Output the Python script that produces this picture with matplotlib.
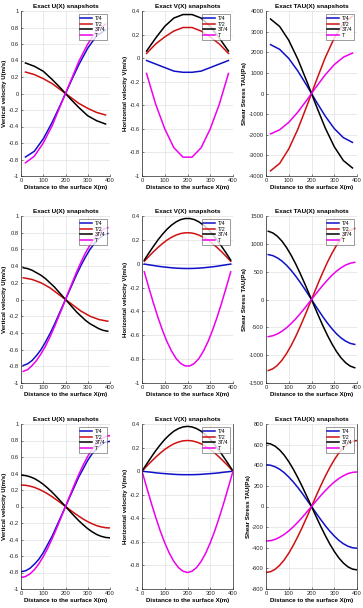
import numpy as np
import matplotlib.pyplot as plt
import matplotlib as mpl
mpl.rc('font', family=['Liberation Sans', 'DejaVu Sans'])

labels = ["T/4", "T/2", "3T/4", "T"]
colors = ["#1010c8", "#d01010", "#000000", "#ee00ee"]

# ---- row 1 (coarse grid)
x1 = [20, 60, 100, 140, 180, 220, 260, 300, 340, 380]
u1_q1 = [-0.77, -0.70, -0.55, -0.35, -0.12, 0.12, 0.35, 0.55, 0.70, 0.77]
u1_q2 = [0.26, 0.23, 0.18, 0.12, 0.04, -0.04, -0.12, -0.18, -0.23, -0.26]
u1_q3 = [0.37, 0.33, 0.27, 0.17, 0.06, -0.06, -0.17, -0.27, -0.33, -0.37]
u1_q4 = [-0.84, -0.76, -0.60, -0.39, -0.13, 0.13, 0.39, 0.60, 0.76, 0.84]
v1_q1 = [-0.02, -0.05, -0.08, -0.11, -0.12, -0.12, -0.11, -0.08, -0.05, -0.02]
v1_q2 = [0.04, 0.12, 0.18, 0.23, 0.26, 0.26, 0.23, 0.18, 0.12, 0.04]
v1_q3 = [0.06, 0.17, 0.27, 0.34, 0.37, 0.37, 0.34, 0.27, 0.17, 0.06]
v1_q4 = [-0.13, -0.39, -0.60, -0.76, -0.84, -0.84, -0.76, -0.60, -0.39, -0.13]
t1_q1 = [2370, 2140, 1700, 1090, 375, -375, -1090, -1700, -2140, -2370]
t1_q2 = [-3750, -3390, -2690, -1730, -590, 590, 1730, 2690, 3390, 3750]
t1_q3 = [3610, 3250, 2580, 1660, 570, -570, -1660, -2580, -3250, -3610]
t1_q4 = [-1960, -1760, -1400, -900, -310, 310, 900, 1400, 1760, 1960]

# ---- row 2
x2 = [10, 30, 50, 70, 90, 110, 130, 150, 170, 190,
      210, 230, 250, 270, 290, 310, 330, 350, 370, 390]
u2_q1 = [-0.79, -0.77, -0.73, -0.67, -0.60, -0.51, -0.41, -0.30, -0.18, -0.06,
         0.06, 0.18, 0.30, 0.41, 0.51, 0.60, 0.67, 0.73, 0.77, 0.79]
u2_q2 = [0.26, 0.25, 0.24, 0.22, 0.20, 0.17, 0.14, 0.10, 0.06, 0.02,
         -0.02, -0.06, -0.10, -0.14, -0.17, -0.20, -0.22, -0.24, -0.25, -0.26]
u2_q3 = [0.38, 0.37, 0.35, 0.32, 0.29, 0.25, 0.20, 0.15, 0.09, 0.03,
         -0.03, -0.09, -0.15, -0.20, -0.25, -0.29, -0.32, -0.35, -0.37, -0.38]
u2_q4 = [-0.86, -0.84, -0.79, -0.73, -0.65, -0.56, -0.45, -0.33, -0.20, -0.07,
         0.07, 0.20, 0.33, 0.45, 0.56, 0.65, 0.73, 0.79, 0.84, 0.86]
v2_q1 = [-0.003, -0.009, -0.015, -0.021, -0.026, -0.030, -0.034, -0.037, -0.039, -0.040,
         -0.040, -0.039, -0.037, -0.034, -0.030, -0.026, -0.021, -0.015, -0.009, -0.003]
v2_q2 = [0.020, 0.061, 0.100, 0.136, 0.169, 0.198, 0.222, 0.240, 0.253, 0.259,
         0.259, 0.253, 0.240, 0.222, 0.198, 0.169, 0.136, 0.100, 0.061, 0.020]
v2_q3 = [0.030, 0.089, 0.145, 0.199, 0.247, 0.289, 0.324, 0.351, 0.370, 0.379,
         0.379, 0.370, 0.351, 0.324, 0.289, 0.247, 0.199, 0.145, 0.089, 0.030]
v2_q4 = [-0.068, -0.201, -0.329, -0.449, -0.558, -0.654, -0.733, -0.795, -0.836, -0.857,
         -0.857, -0.836, -0.795, -0.733, -0.654, -0.558, -0.449, -0.329, -0.201, -0.068]
t2_q1 = [807, 788, 748, 691, 616, 526, 423, 310, 189, 64,
         -64, -189, -310, -423, -526, -616, -691, -748, -788, -807]
t2_q2 = [-1276, -1245, -1183, -1091, -973, -831, -669, -490, -299, -100,
         100, 299, 490, 669, 831, 973, 1091, 1183, 1245, 1276]
t2_q3 = [1226, 1196, 1136, 1049, 935, 799, 643, 471, 287, 97,
         -97, -287, -471, -643, -799, -935, -1049, -1136, -1196, -1226]
t2_q4 = [-668, -651, -619, -571, -509, -435, -350, -256, -156, -53,
         53, 156, 256, 350, 435, 509, 571, 619, 651, 668]

# ---- row 3
x3 = [0, 20, 40, 60, 80, 100, 120, 140, 160, 180, 200,
      220, 240, 260, 280, 300, 320, 340, 360, 380, 400]
u3_q1 = [-0.79, -0.78, -0.75, -0.70, -0.64, -0.56, -0.46, -0.36, -0.24, -0.12, 0.0,
         0.12, 0.24, 0.36, 0.46, 0.56, 0.64, 0.70, 0.75, 0.78, 0.79]
u3_q2 = [0.26, 0.257, 0.247, 0.232, 0.210, 0.184, 0.153, 0.118, 0.080, 0.041, 0.0,
         -0.041, -0.080, -0.118, -0.153, -0.184, -0.210, -0.232, -0.247, -0.257, -0.26]
u3_q3 = [0.38, 0.375, 0.361, 0.339, 0.307, 0.269, 0.223, 0.173, 0.117, 0.059, 0.0,
         -0.059, -0.117, -0.173, -0.223, -0.269, -0.307, -0.339, -0.361, -0.375, -0.38]
u3_q4 = [-0.86, -0.849, -0.818, -0.766, -0.696, -0.608, -0.506, -0.390, -0.266, -0.134, 0.0,
         0.134, 0.266, 0.390, 0.506, 0.608, 0.696, 0.766, 0.818, 0.849, 0.86]
v3_q1 = [0.0, -0.005, -0.009, -0.014, -0.018, -0.021, -0.024, -0.027, -0.029, -0.030, -0.030,
         -0.030, -0.029, -0.027, -0.024, -0.021, -0.018, -0.014, -0.009, -0.005, 0.0]
v3_q2 = [0.0, 0.041, 0.080, 0.118, 0.153, 0.184, 0.210, 0.232, 0.247, 0.257, 0.26,
         0.257, 0.247, 0.232, 0.210, 0.184, 0.153, 0.118, 0.080, 0.041, 0.0]
v3_q3 = [0.0, 0.059, 0.117, 0.173, 0.223, 0.269, 0.307, 0.339, 0.361, 0.375, 0.38,
         0.375, 0.361, 0.339, 0.307, 0.269, 0.223, 0.173, 0.117, 0.059, 0.0]
v3_q4 = [0.0, -0.134, -0.266, -0.390, -0.506, -0.608, -0.696, -0.766, -0.818, -0.849, -0.86,
         -0.849, -0.818, -0.766, -0.696, -0.608, -0.506, -0.390, -0.266, -0.134, 0.0]
t3_q1 = [405, 400, 385, 361, 328, 286, 238, 184, 125, 63, 0,
         -63, -125, -184, -238, -286, -328, -361, -385, -400, -405]
t3_q2 = [-640, -632, -609, -570, -518, -453, -376, -291, -198, -100, 0,
         100, 198, 291, 376, 453, 518, 570, 609, 632, 640]
t3_q3 = [615, 607, 585, 548, 498, 435, 362, 279, 190, 96, 0,
         -96, -190, -279, -362, -435, -498, -548, -585, -607, -615]
t3_q4 = [-335, -331, -319, -298, -271, -237, -197, -152, -104, -52, 0,
         52, 104, 152, 197, 237, 271, 298, 319, 331, 335]

rows = [
    (x1, [u1_q1, u1_q2, u1_q3, u1_q4], [v1_q1, v1_q2, v1_q3, v1_q4], [t1_q1, t1_q2, t1_q3, t1_q4], 4000, 1000),
    (x2, [u2_q1, u2_q2, u2_q3, u2_q4], [v2_q1, v2_q2, v2_q3, v2_q4], [t2_q1, t2_q2, t2_q3, t2_q4], 1500, 500),
    (x3, [u3_q1, u3_q2, u3_q3, u3_q4], [v3_q1, v3_q2, v3_q3, v3_q4], [t3_q1, t3_q2, t3_q3, t3_q4], 800, 200),
]

W, H = 363, 608
fig = plt.figure(figsize=(W/100, H/100), dpi=100)

col_px = [(21, 89), (142, 91), (266, 91)]
row_px = [(11, 176), (216, 383), (424, 589)]

def fmt(v):
    if abs(v) < 1e-9:
        return "0"
    s = "%g" % v
    return s

for r, (x, us, vs, ts, tmax, tstep) in enumerate(rows):
    top, bot = row_px[r]
    panels = [
        (us, "Exact U(X) snapshots", "Vertical velocity U(m/s)", (-1, 1), np.arange(-1, 1.01, 0.2)),
        (vs, "Exact V(X) snapshots", "Horizontal velocity V(m/s)", (-1, 0.4), np.arange(-1, 0.41, 0.2)),
        (ts, "Exact TAU(X) snapshots", "Shear Stress TAU(Pa)", (-tmax, tmax), np.arange(-tmax, tmax + 1, tstep)),
    ]
    for c, (series, title, ylab, ylim, yticks) in enumerate(panels):
        left, width = col_px[c]
        ax = fig.add_axes([left/W, 1 - bot/H, width/W, (bot - top)/H])
        for s, lab, col in zip(series, labels, colors):
            ax.plot(x, s, color=col, lw=1.1, label=lab)
        ax.set_xlim(0, 400)
        ax.set_ylim(*ylim)
        ax.set_xticks([0, 100, 200, 300, 400])
        ax.set_yticks(yticks)
        ax.set_yticklabels([fmt(round(v, 1)) for v in yticks])
        ax.grid(True, color="#e0e0e0", lw=0.5)
        ax.set_axisbelow(True)
        ax.tick_params(labelsize=4.2, length=1.5, width=0.4, direction="in",
                       colors="#262626", pad=1.5)
        for sp in ["top", "right"]:
            ax.spines[sp].set_visible(False)
        if r == 2 and c > 0:
            ax.spines["right"].set_visible(True)
        for sp in ax.spines.values():
            sp.set_linewidth(0.5)
            sp.set_color("#262626")
        ax.set_title(title, fontsize=4.6, fontweight="bold", pad=2)
        ax.set_xlabel("Distance to the surface X(m)", fontsize=4.4, fontweight="bold", labelpad=1.5)
        ax.set_ylabel(ylab, fontsize=4.4, fontweight="bold", labelpad=1)
        leg = ax.legend(loc="upper right", fontsize=3.8, frameon=True, fancybox=False,
                        handlelength=2.2, handletextpad=0.5, labelspacing=0.15,
                        borderpad=0.3, borderaxespad=0.6)
        leg.get_frame().set_edgecolor("#262626")
        leg.get_frame().set_linewidth(0.4)

fig.savefig("out.png", dpi=100)
